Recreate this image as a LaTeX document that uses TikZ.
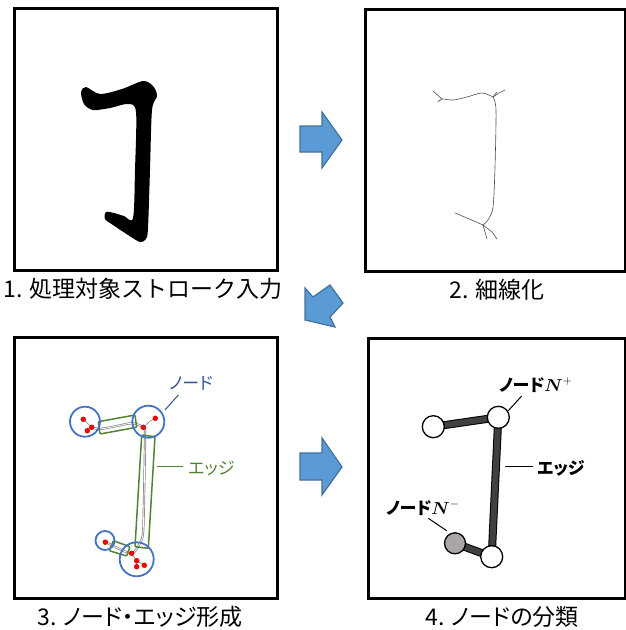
\documentclass[tikz,border=0pt]{standalone}
\usepackage{amsmath}
\usepackage{fontspec}
\usetikzlibrary{backgrounds}
\newfontfamily\jp{Noto Sans CJK JP}
\newfontfamily\jpp[RawFeature=+palt]{Noto Sans CJK JP}
\definecolor{arrowfill}{RGB}{91,155,213}
\definecolor{arrowline}{RGB}{65,113,156}
\definecolor{nodeblue}{RGB}{68,114,196}
\definecolor{labelblue}{RGB}{47,85,151}
\definecolor{edgegreen}{RGB}{84,130,53}
\definecolor{edgedark}{RGB}{64,64,64}
\definecolor{negfill}{RGB}{170,166,166}
\begin{document}
\begin{tikzpicture}[x=1pt,y=-1pt,
  panel/.style={draw=black,line width=3pt},
  caption/.style={font=\jp\fontsize{23}{26}\selectfont,inner sep=0},
  pcaption/.style={font=\jpp\fontsize{23}{26}\selectfont,inner sep=0},
  smalllabel/.style={font=\jpp\fontsize{17}{19}\selectfont,inner sep=0},
  bigarrow/.style={fill=arrowfill,draw=arrowline,line width=1.2pt,line join=miter},
  blueregion/.style={circle,draw=nodeblue,line width=1.8pt,inner sep=0},
  greenbox/.style={draw=edgegreen,line width=1.5pt,rounded corners=1pt},
  reddot/.style={circle,fill=red,draw=red!70!black,line width=0.3pt,inner sep=0,minimum size=5pt},
  twig/.style={draw=gray,line width=0.6pt},
  gnode/.style={circle,draw=black,line width=1.3pt,fill=white,inner sep=0,minimum size=22pt},
  leader/.style={line width=1pt}
]
\useasboundingbox (0,0) rectangle (625,630);

% ---------- panels ----------
\draw[panel] (14,8) rectangle (277,270);
\draw[panel] (365,9) rectangle (625,271);
\draw[panel] (14,337) rectangle (277,598);
\draw[panel] (368,338) rectangle (625,598);

% ---------- captions ----------
\node[caption] (cap1) at (143,289) {1. 処理対象ストローク入力};
\node[caption] (cap2) at (497,290) {2. 細線化};
\node[pcaption] (cap3) at (140,617) {3. ノード・エッジ形成};
\node[pcaption] (cap4) at (502,617) {4. ノードの分類};

% ---------- arrows ----------
\draw[bigarrow] (300,126) -- (322,126) -- (322,112) -- (342,140) -- (322,168) -- (322,152) -- (300,152) -- cycle;
\draw[bigarrow] (300,453) -- (322,453) -- (322,438) -- (342,467) -- (322,495) -- (322,480) -- (300,480) -- cycle;
\draw[bigarrow] (305,288) -- (313,297) -- (330,285) -- (343,303) -- (330,317) -- (335,327) -- (305,320) -- cycle;

% ---------- panel 1: brush stroke ----------
\fill[black] plot[smooth cycle,tension=0.5] coordinates {
 (81,92) (86,87) (100,94) (122,89) (143,81) (153,86) (157,96) (152,110)
 (150,170) (148,228) (146,239) (140,242) (128,235) (113,225) (105,219)
 (106,212) (114,213) (124,216) (133,218) (135,170) (136,112) (128,104)
 (110,108) (93,110) (84,104)};

% ---------- panel 2: skeleton ----------
\begin{scope}[draw=black!70,line width=0.6pt]
\draw plot[smooth,tension=0.5] coordinates {(438,102) (442,99) (453,100) (467,97) (482,93) (493,97)};
\draw (433,91) -- (442,99);
\draw (493,97) -- (499,93) -- (505,90);
\draw (493,97) -- (497,92);
\draw plot[smooth,tension=0.5] coordinates {(493,97) (496,110) (495,167) (493,207) (488,220) (483,225)};
\draw plot[smooth,tension=0.5] coordinates {(483,225) (467,218) (455,213)};
\draw (483,225) -- (487,239);
\draw (483,225) -- (492,232) -- (497,239);
\end{scope}

% ---------- panel 3: nodes and edges ----------
\draw[gray,line width=2.2pt] plot[smooth,tension=0.5] coordinates {
 (91.7,427.3) (100,429) (117,426) (131.7,423.3) (143.3,427.3) (145,436) (144,500) (143,533) (140,543) (131.7,553.3) (113,546) (105.7,541.7)};
\draw[white,line width=0.8pt] plot[smooth,tension=0.5] coordinates {
 (91.7,427.3) (100,429) (117,426) (131.7,423.3) (143.3,427.3) (145,436) (144,500) (143,533) (140,543) (131.7,553.3) (113,546) (105.7,541.7)};

\draw[twig] (83.3,419.3) -- (91.7,427.3);
\draw[twig] (87.3,430.7) -- (91.7,427.3);
\draw[twig] (143.3,427.3) -- (150,421) -- (155.3,418.3);
\draw[twig] (131.7,553.3) -- (136.7,560.7) -- (136.7,566.7);
\draw[twig] (136.7,560.7) -- (144.3,565.3);

\draw[greenbox] (98.3,421.7) -- (135,415) -- (136.7,427.3) -- (100,434) -- cycle;
\draw[greenbox] (141.7,435) -- (155,436.7) -- (148.3,548.3) -- (135,546.7) -- cycle;
\draw[greenbox] (113.3,540.7) -- (130,546.7) -- (126.7,556) -- (109.3,550.7) -- cycle;

\node[blueregion,minimum size=30pt] (regA) at (85,421.7) {};
\node[blueregion,minimum size=32pt] (regB) at (148.3,421.7) {};
\node[blueregion,minimum size=19pt] (regC) at (105,540.5) {};
\node[blueregion,minimum size=34pt] (regD) at (136.7,559.3) {};

\node[reddot] (dA1) at (83.3,419.3) {};
\node[reddot] (dA2) at (87.3,430.7) {};
\node[reddot] (dA3) at (91.7,427.3) {};
\node[reddot] (dB1) at (143.3,427.3) {};
\node[reddot] (dB2) at (155.3,418.3) {};
\node[reddot] (dC1) at (105.3,542.2) {};
\node[reddot] (dD1) at (131.7,553.3) {};
\node[reddot] (dD2) at (136.7,560.7) {};
\node[reddot] (dD3) at (136.7,566.7) {};
\node[reddot] (dD4) at (144.3,565.3) {};

\node[smalllabel,text=labelblue] (lblnode3) at (191,383) {ノード};
\coordinate (ln3a) at (165,410);
\coordinate (ln3b) at (178.3,395);
\draw[leader,draw=labelblue] (ln3a) -- (ln3b);

\node[smalllabel,text=edgegreen,anchor=west] (lbledge3) at (188,468) {エッジ};
\coordinate (le3a) at (156.7,466.7);
\coordinate (le3b) at (183.3,466.7);
\draw[leader,draw=edgegreen] (le3a) -- (le3b);

% ---------- panel 4: node classification ----------
\node[gnode] (n1) at (433.3,426.7) {};
\node[gnode] (n2) at (498.3,417.3) {};
\node[gnode] (n3) at (491.7,556.7) {};
\node[gnode,fill=negfill,minimum size=21pt] (n4) at (455,543.3) {};
\begin{pgfonlayer}{background}
\draw[black,line width=8pt] (n1.center) -- (n2.center) -- (n3.center) -- (n4.center);
\draw[edgedark,line width=6pt] (n1.center) -- (n2.center) -- (n3.center) -- (n4.center);
\end{pgfonlayer}

\node[smalllabel,anchor=west] (lblnplus) at (499,385) {\bfseries ノード$\boldsymbol{N}^{+}$};
\coordinate (lpa) at (508.3,410.7);
\coordinate (lpb) at (521.7,396);
\draw[leader] (lpa) -- (lpb);

\node[smalllabel,anchor=west] (lbledge4) at (537,468) {\bfseries エッジ};
\coordinate (le4a) at (505,466.7);
\coordinate (le4b) at (533.3,466.7);
\draw[leader] (le4a) -- (le4b);

\node[smalllabel,anchor=west] (lblnminus) at (386,508) {\bfseries ノード$\boldsymbol{N}^{-}$};
\coordinate (lma) at (428.3,518.3);
\coordinate (lmb) at (446.7,530.7);
\draw[leader] (lma) -- (lmb);
\end{tikzpicture}
\end{document}
